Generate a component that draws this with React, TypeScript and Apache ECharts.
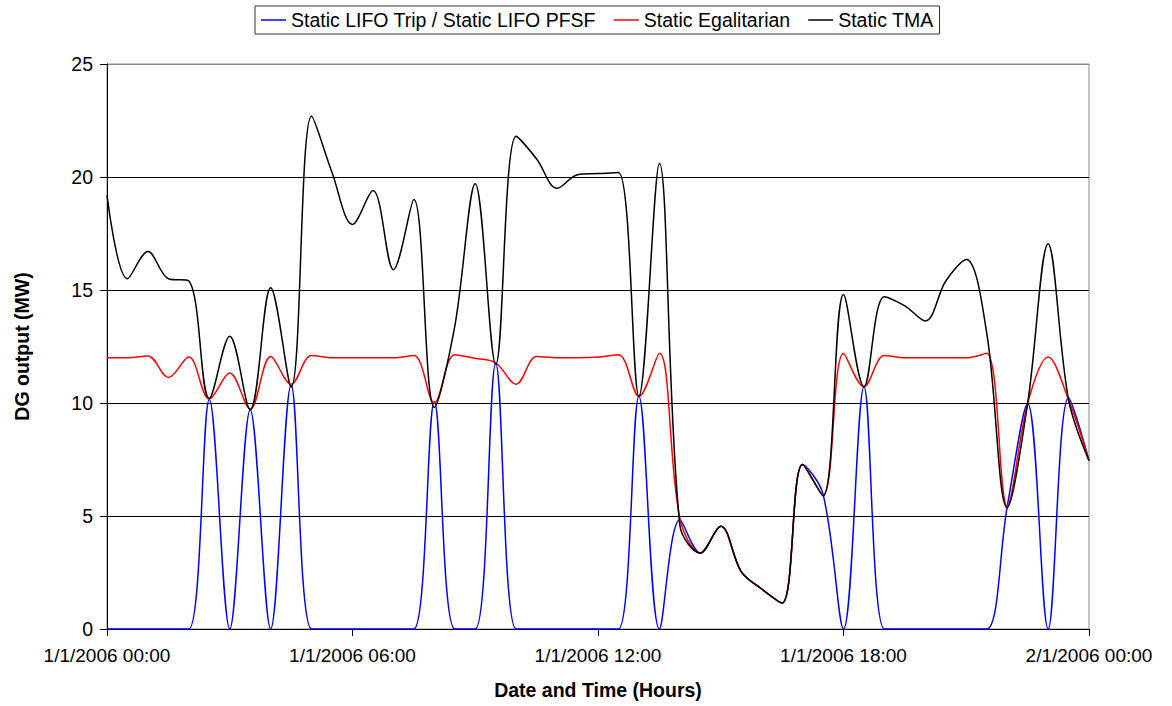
import React, { useEffect, useRef } from "react";
import * as echarts from "echarts";

// Half-hourly time stamps (hours since 1/1/2006 00:00)
const hours: number[] = [
  0, 0.5, 1, 1.5, 2, 2.5, 3, 3.5, 4, 4.5, 5, 5.5, 6, 6.5, 7, 7.5,
  8, 8.5, 9, 9.5, 10, 10.5, 11, 11.5, 12, 12.5, 13, 13.5, 14, 14.5, 15, 15.5,
  16, 16.5, 17, 17.5, 18, 18.5, 19, 19.5, 20, 20.5, 21, 21.5, 22, 22.5, 23, 23.5, 24,
];

const lifo: number[] = [
  0, 0, 0, 0, 0, 10.15, 0, 9.7, 0, 10.8, 0, 0, 0, 0, 0, 0,
  10.05, 0, 0, 11.75, 0, 0, 0, 0, 0, 0, 10.3, 0, 4.83, 3.36, 4.55, 2.54,
  1.77, 1.15, 7.28, 5.97, 0, 10.72, 0, 0, 0, 0, 0, 0, 5.4, 9.98, 0, 10.23, 7.45,
];

const egalitarian: number[] = [
  12.0, 12.0, 12.08, 11.13, 12.03, 10.18, 11.33, 9.74, 12.06, 10.83, 12.1, 12.0, 12.0, 12.0, 12.0, 12.1,
  10.0, 12.14, 11.98, 11.78, 10.83, 12.06, 12.0, 12.0, 12.03, 12.14, 10.3, 12.2, 4.9, 3.36, 4.55, 2.54,
  1.77, 1.15, 7.28, 5.92, 12.19, 10.72, 12.1, 12.0, 12.0, 12.0, 12.0, 12.2, 5.43, 9.98, 12.03, 10.15, 7.45,
];

const tma: number[] = [
  19.2, 15.5, 16.7, 15.5, 15.4, 10.2, 12.95, 9.7, 15.1, 10.7, 22.7, 20.2, 17.9, 19.4, 15.9, 19.0,
  9.8, 13.4, 19.7, 11.7, 21.8, 20.8, 19.5, 20.1, 20.15, 20.2, 10.3, 20.6, 4.6, 3.36, 4.55, 2.54,
  1.77, 1.15, 7.28, 5.89, 14.8, 10.72, 14.7, 14.3, 13.63, 15.4, 16.35, 13.1, 5.37, 9.98, 17.05, 10.15, 7.45,
];

const seriesNames = [
  "Static LIFO Trip / Static LIFO PFSF",
  "Static Egalitarian",
  "Static TMA",
];
const seriesColors = ["#0000FF", "#FF0000", "#000000"];

const FONT = "'Liberation Sans', Arial, Helvetica, sans-serif";

function xLabel(h: number): string {
  if (h >= 24) return "2/1/2006 00:00";
  const hh = String(Math.round(h)).padStart(2, "0");
  return "1/1/2006 " + hh + ":00";
}

export default function App() {
  const ref = useRef<HTMLDivElement>(null);
  useEffect(() => {
    if (!ref.current) return;
    const chart = echarts.init(ref.current, undefined, { renderer: "svg" });
    const all = [lifo, egalitarian, tma];
    chart.setOption({
      animation: false,
      backgroundColor: "#ffffff",
      textStyle: { fontFamily: FONT },
      legend: {
        left: 255,
        top: 6,
        padding: [4, 6, 4, 6],
        borderColor: "#333",
        borderWidth: 1,
        icon: "rect",
        itemWidth: 25,
        itemHeight: 1.5,
        itemGap: 18,
        textStyle: { fontSize: 19.5, color: "#000", fontFamily: FONT },
        data: seriesNames,
      },
      grid: {
        left: 107,
        right: 83,
        top: 64,
        bottom: 77,
        show: true,
        borderColor: "#888",
        borderWidth: 1,
        backgroundColor: "transparent",
      },
      xAxis: {
        type: "value",
        min: 0,
        max: 24,
        interval: 6,
        name: "Date and Time (Hours)",
        nameLocation: "middle",
        nameGap: 51,
        nameTextStyle: { fontSize: 19.5, fontWeight: "bold", color: "#000", fontFamily: FONT },
        axisLine: { show: true, lineStyle: { color: "#000", width: 1 } },
        axisTick: { show: true, inside: false, length: 7, lineStyle: { color: "#000" } },
        axisLabel: {
          fontSize: 19,
          color: "#000",
          margin: 17,
          fontFamily: FONT,
          formatter: (v: number) => xLabel(v),
        },
        splitLine: { show: false },
      },
      yAxis: {
        type: "value",
        min: 0,
        max: 25,
        interval: 5,
        name: "DG output (MW)",
        nameLocation: "middle",
        nameGap: 75,
        nameTextStyle: { fontSize: 19.5, fontWeight: "bold", color: "#000", fontFamily: FONT },
        axisLine: { show: true, lineStyle: { color: "#000", width: 1 } },
        axisTick: { show: true, inside: false, length: 7, lineStyle: { color: "#000" } },
        axisLabel: { fontSize: 19.5, color: "#000", margin: 14, fontFamily: FONT },
        splitLine: {
          show: true,
          lineStyle: { color: ["#000", "#000", "#000", "#000", "#000", "#888"], width: 1 },
        },
      },
      series: seriesNames.map((name, i) => ({
        name,
        type: "line",
        data: hours.map((h, k) => [h, all[i][k]]),
        smooth: 0.35,
        symbol: "none",
        showSymbol: false,
        clip: true,
        lineStyle: { color: seriesColors[i], width: 1.5 },
        itemStyle: { color: seriesColors[i] },
      })),
    });
    return () => chart.dispose();
  }, []);
  return (
    <div
      ref={ref}
      style={{ position: "fixed", left: 0, top: 0, width: 1172, height: 706, background: "#fff" }}
    />
  );
}
